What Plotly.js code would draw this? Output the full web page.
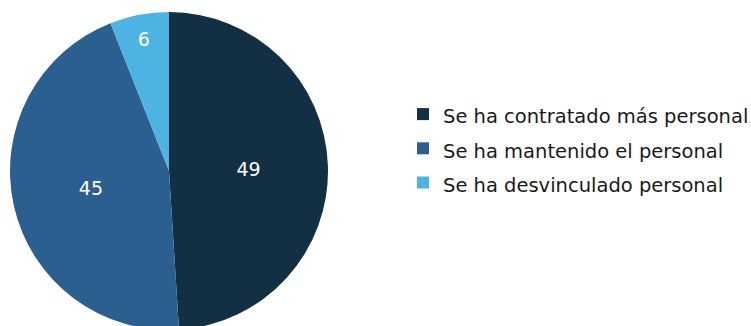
<!DOCTYPE html>
<html>
<head>
<meta charset="utf-8">
<script src="https://cdn.plot.ly/plotly-3.0.1.min.js"></script>
<style>
html,body{margin:0;padding:0;overflow:hidden;background:#fff;width:751px;height:326px;}
#chart{width:751px;height:340px;}
</style>
</head>
<body>
<div id="chart"></div>
<script>
const categories = ["Se ha contratado más personal", "Se ha mantenido el personal", "Se ha desvinculado personal"];
const values = [49, 45, 6];
const colors = ["#132f44", "#2b5f8f", "#4db3e3"];

const W = 751, H = 340;
const labelFont = 19.5;

const trace = {
  type: "pie",
  labels: categories.map(c => '<span style="font-size:' + labelFont + 'px">' + c + '</span>'),
  values: values,
  sort: false,
  direction: "clockwise",
  rotation: 0,
  marker: {colors: colors, line: {width: 0}},
  textinfo: "value",
  textposition: "inside",
  insidetextorientation: "horizontal",
  insidetextfont: {color: "#ffffff", size: 19, family: "DejaVu Sans"},
  hoverinfo: "none",
  domain: {x: [10 / W, 328 / W], y: [(H - 330) / H, (H - 12) / H]}
};

const layout = {
  width: W,
  height: H,
  margin: {l: 0, r: 0, t: 0, b: 0, pad: 0, autoexpand: false},
  paper_bgcolor: "#ffffff",
  showlegend: true,
  legend: {
    x: 403 / W, xanchor: "left",
    y: (H - 148.5) / H, yanchor: "middle",
    font: {family: "DejaVu Sans", size: 24, color: "#1a1a1a"},
    bgcolor: "rgba(0,0,0,0)"
  },
  font: {family: "DejaVu Sans"}
};

Plotly.newPlot("chart", [trace], layout, {displayModeBar: false, staticPlot: true});
</script>
</body>
</html>
